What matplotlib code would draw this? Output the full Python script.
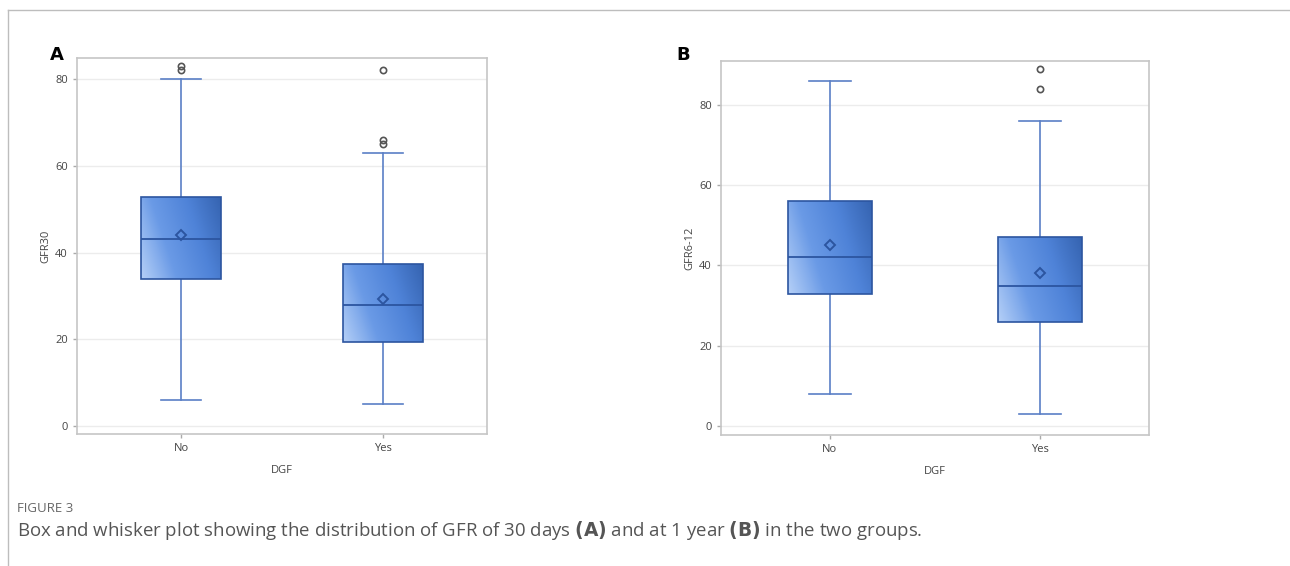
import numpy as np
import matplotlib.pyplot as plt
from matplotlib.lines import Line2D
from matplotlib.colors import LinearSegmentedColormap

# Box statistics (SAS style box plots)
groups = ['No', 'Yes']

# Panel A: GFR at 30 days
a_q1 = [34, 19.5]
a_med = [43, 28]
a_q3 = [52.7, 37.3]
a_mean = [44, 29.3]
a_lo = [6, 5]
a_hi = [80, 63]
a_fliers = [[82, 83], [82, 65, 66]]

# Panel B: GFR at 6-12 months
b_q1 = [33, 26]
b_med = [42, 35]
b_q3 = [56, 47]
b_mean = [45, 38.2]
b_lo = [8, 3]
b_hi = [86, 76]
b_fliers = [[], [89, 84]]

plt.rcParams['font.family'] = ['Open Sans', 'DejaVu Sans']

grad = LinearSegmentedColormap.from_list('box', ['#b4cff7', '#6a9ae6', '#4f83d8', '#3563b0'])
edge = '#2c55a0'
whisk = '#5a7fc6'


def make_stats(q1, med, q3, mean, lo, hi, fliers):
    out = []
    for i in range(len(q1)):
        out.append(dict(q1=q1[i], med=med[i], q3=q3[i], mean=mean[i],
                        whislo=lo[i], whishi=hi[i], fliers=fliers[i]))
    return out


def draw_panel(ax, stats, ylim, ylabel):
    res = ax.bxp(stats, positions=range(len(stats)), widths=0.4, patch_artist=True,
                 showmeans=True, capwidths=0.2,
                 boxprops=dict(facecolor='#5b8fe0', edgecolor=edge, linewidth=1.2),
                 medianprops=dict(color=edge, linewidth=1.3),
                 whiskerprops=dict(color=whisk, linewidth=1.2),
                 capprops=dict(color=whisk, linewidth=1.2),
                 meanprops=dict(marker='D', markerfacecolor='none', markeredgecolor=edge,
                                markeredgewidth=1.4, markersize=5),
                 flierprops=dict(marker='o', markerfacecolor='none', markeredgecolor='#555555',
                                 markeredgewidth=1.2, markersize=4.5))
    # diagonal gradient fill, clipped to each box
    gx, gy = np.meshgrid(np.linspace(0, 1, 64), np.linspace(0, 1, 64))
    g = 0.75 * gx + 0.25 * (1 - gy)
    for i, box in enumerate(res['boxes']):
        s = stats[i]
        im = ax.imshow(g, cmap=grad, origin='upper', aspect='auto', interpolation='bilinear',
                       extent=(i - 0.2, i + 0.2, s['q1'], s['q3']), zorder=2)
        im.set_clip_path(box)
        box.set_zorder(2.5)
        box.set_facecolor('none')
    for ln in res['medians'] + res['means']:
        ln.set_zorder(3)

    ax.set_xlim(-0.516, 1.516)
    ax.set_ylim(*ylim)
    ax.set_xticks(range(len(groups)))
    ax.set_xticklabels(groups)
    ax.set_yticks([0, 20, 40, 60, 80])
    ax.yaxis.grid(True, color='#ececec', linewidth=1)
    ax.set_axisbelow(True)
    for sp in ax.spines.values():
        sp.set_color('#c6c6c6')
        sp.set_linewidth(1.2)
    ax.tick_params(colors='#aaaaaa', labelcolor='#444444', labelsize=8, length=3, width=1)
    ax.set_xlabel('DGF', fontsize=8, color='#444444', labelpad=8)
    ax.set_ylabel(ylabel, fontsize=8, color='#444444', labelpad=3)


fig = plt.figure(figsize=(12.9, 5.66), dpi=100)
ax1 = fig.add_axes([0.0597, 0.2332, 0.3178, 0.6643])
ax2 = fig.add_axes([0.5589, 0.2314, 0.3318, 0.6608])

draw_panel(ax1, make_stats(a_q1, a_med, a_q3, a_mean, a_lo, a_hi, a_fliers), (-1.8, 84.8), 'GFR30')
draw_panel(ax2, make_stats(b_q1, b_med, b_q3, b_mean, b_lo, b_hi, b_fliers), (-2.2, 90.9), 'GFR6-12')

fig.text(0.044, 0.903, 'A', fontsize=13, fontweight='bold', family='DejaVu Sans', va='center', ha='center')
fig.text(0.5295, 0.903, 'B', fontsize=13, fontweight='bold', family='DejaVu Sans', va='center', ha='center')

# frame lines around the figure area
fig.add_artist(Line2D([0.0062, 1], [0.9823, 0.9823], color='#bdbdbd', linewidth=1))
fig.add_artist(Line2D([0.0062, 0.0062], [0, 0.9823], color='#bdbdbd', linewidth=1))

fig.text(0.0132, 1 - 509 / 566, 'FIGURE 3', fontsize=9.5, color='#666666', va='center')
fig.text(0.0132, 1 - 531 / 566,
         'Box and whisker plot showing the distribution of GFR of 30 days $\\bf{(A)}$ and at 1 year $\\bf{(B)}$ in the two groups.',
         fontsize=13.4, color='#555555', va='center')

fig.savefig('out.png', dpi=100)
